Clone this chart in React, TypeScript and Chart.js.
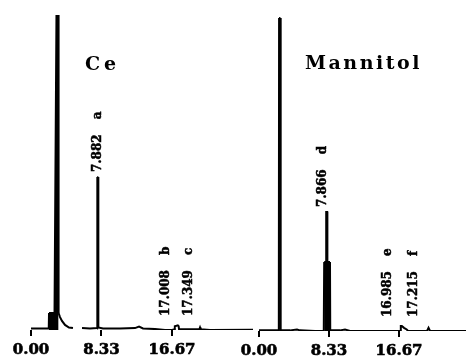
import React, { useEffect, useRef } from "react";
import { Chart, registerables } from "chart.js";

Chart.register(...registerables);

// ---- Ce chromatogram (retention time in min, detector signal in % of full scale) ----
const ceTimes = [0, 1.06, 2.1, 2.13, 2.78, 3.01, 3.25, 3.26, 3.43, 3.66, 4.02, 4.49, 4.96, 5.2, 6.03, 6.97, 7.83, 7.84, 7.95, 7.96, 8.51, 10.52, 12.29, 12.77, 13.24, 14.66, 15.84, 16.67, 16.98, 17.0, 17.35, 17.45, 17.5, 19.9, 19.98, 20.06, 21.16, 26.24];
const ceSignal = [0.5, 0.5, 0.5, 5.4, 5.4, 100, 100, 5.4, 4.1, 2.9, 1.6, 0.8, 0.6, null, 0.6, 0.5, 0.6, 48.6, 48.6, 0.8, 0.5, 0.5, 0.6, 1.1, 0.5, 0.3, 0, 0, 0.2, 1.2, 1.5, 1.2, 0.2, 0.2, 0.8, 0.2, 0, 0.1];
const cePeakTimes = [7.882, 17.008, 17.349];
const cePeakLetters = ["a", "b", "c"];

// ---- Mannitol chromatogram ----
const manTimes = [0, 1.5, 2.36, 2.39, 2.55, 2.58, 3.69, 4.52, 4.88, 6.67, 7.71, 7.76, 7.98, 8.0, 8.12, 8.14, 8.45, 8.48, 9.64, 10.24, 10.83, 16.19, 16.85, 16.88, 17.0, 17.26, 17.58, 17.74, 20.0, 20.18, 20.36, 24.64];
const manSignal = [0.2, 0.2, 0.3, 99.4, 99.4, 0.3, 0.2, 0.5, 0.2, 0, 0.1, 21.9, 21.9, 37.8, 37.8, 21.9, 21.9, 0.2, 0.2, 0.5, 0, 0, 0, 1.6, 1.6, 1.0, 0.5, 0, 0, 1.0, 0, 0];
const manPeakTimes = [7.866, 16.985, 17.215];
const manPeakLetters = ["d", "e", "f"];

// ---- axis ----
const tickValues = [0, 8.33, 16.67];
const tickLabels = ["0.00", "8.33", "16.67"];

const peakLabelPlugin = {
  id: "peakLabels",
  afterDatasetsDraw(chart: any, _args: any, opts: any) {
    const { ctx, scales, chartArea } = chart;
    const x = scales.x;
    const y = scales.y;
    ctx.save();
    ctx.fillStyle = "#000";
    ctx.strokeStyle = "#000";
    ctx.lineWidth = 0.5;
    ctx.font = 'bold 12px "DejaVu Serif"';
    ctx.textBaseline = "middle";
    ctx.textAlign = "left";
    opts.times.forEach((t: number, i: number) => {
      let apex = 0;
      opts.traceTimes.forEach((tt: number, j: number) => {
        const v = opts.traceSignal[j];
        if (v != null && Math.abs(tt - t) <= 0.35 && v > apex) apex = v;
      });
      const bottom = Math.min(y.getPixelForValue(apex) - 5, y.getPixelForValue(0) - 14);
      const px = x.getPixelForValue(t) + opts.dx[i];
      ctx.save();
      ctx.translate(px, bottom);
      ctx.rotate(-Math.PI / 2);
      const num = t.toFixed(3);
      ctx.fillText(num, 0, 0);
      ctx.strokeText(num, 0, 0);
      const w = ctx.measureText(num).width;
      ctx.fillText(opts.letters[i], w + 15, 0);
      ctx.strokeText(opts.letters[i], w + 15, 0);
      ctx.restore();
    });
    // title
    ctx.font = 'bold 19px "DejaVu Serif"';
    (ctx as any).letterSpacing = opts.titleSpacing;
    ctx.textBaseline = "alphabetic";
    ctx.fillText(opts.title, chartArea.left + opts.titleDx, opts.titleY);
    ctx.restore();
  },
};

function buildChart(canvas: HTMLCanvasElement, p: any) {
  return new Chart(canvas, {
    type: "line",
    data: {
      datasets: [
        {
          data: p.times.map((t: number, i: number) => ({ x: t, y: p.signal[i] })),
          borderColor: "#000",
          borderWidth: 2,
          pointRadius: 0,
          tension: 0,
          fill: "origin",
          backgroundColor: "rgba(0,0,0,0)",
          spanGaps: false,
          segment: {
            backgroundColor: (c: any) =>
              c.p0.parsed.y >= 5 && c.p1.parsed.y >= 5 ? "#000" : "rgba(0,0,0,0)",
          },
        } as any,
      ],
    },
    options: {
      responsive: false,
      animation: false,
      events: [],
      layout: { padding: p.padding },
      plugins: {
        legend: { display: false },
        tooltip: { enabled: false },
        peakLabels: {
          times: p.peakTimes,
          letters: p.peakLetters,
          dx: p.labelDx,
          traceTimes: p.times,
          traceSignal: p.signal,
          title: p.title,
          titleDx: p.titleDx,
          titleY: p.titleY,
          titleSpacing: p.titleSpacing,
        },
      } as any,
      scales: {
        x: {
          type: "linear",
          min: 0,
          max: p.xMax,
          afterBuildTicks: (s: any) => {
            s.ticks = tickValues.map((v) => ({ value: v }));
          },
          afterFit: (s: any) => {
            s.height = p.axisHeight;
          },
          grid: {
            display: true,
            drawOnChartArea: false,
            drawTicks: true,
            tickLength: 6,
            color: "#000",
            lineWidth: 2,
          },
          border: { display: false },
          ticks: {
            autoSkip: false,
            maxRotation: 0,
            padding: 5,
            color: "#000",
            textStrokeColor: "#000",
            textStrokeWidth: 0.6,
            font: { family: '"DejaVu Serif"', size: 15, weight: "bold" },
            callback: (_v: any, i: number) => tickLabels[i],
          },
        } as any,
        y: { display: false, min: 0, max: 100 },
      },
    },
    plugins: [peakLabelPlugin as any],
  });
}

export default function App() {
  const leftRef = useRef<HTMLCanvasElement>(null);
  const rightRef = useRef<HTMLCanvasElement>(null);

  useEffect(() => {
    const c1 = buildChart(leftRef.current!, {
      times: ceTimes,
      signal: ceSignal,
      xMax: 26.24,
      padding: { left: 31, right: 3, top: 15, bottom: 0 },
      axisHeight: 28,
      peakTimes: cePeakTimes,
      peakLetters: cePeakLetters,
      labelDx: [0, -9, 11],
      title: "Ce",
      titleDx: 54,
      titleY: 70,
      titleSpacing: "4px",
    });
    const c2 = buildChart(rightRef.current!, {
      times: manTimes,
      signal: manSignal,
      xMax: 24.64,
      padding: { left: 29, right: 0, top: 16, bottom: 0 },
      axisHeight: 27,
      peakTimes: manPeakTimes,
      peakLetters: manPeakLetters,
      labelDx: [-2, -14, 10],
      title: "Mannitol",
      titleDx: 46,
      titleY: 69,
      titleSpacing: "2.5px",
    });
    return () => {
      c1.destroy();
      c2.destroy();
    };
  }, []);

  return (
    <div style={{ position: "fixed", left: 0, top: 0, width: 466, height: 358, background: "#fff" }}>
      <canvas ref={leftRef} width={256} height={358} style={{ position: "absolute", left: 0, top: 0, width: 256, height: 358 }} />
      <canvas ref={rightRef} width={236} height={358} style={{ position: "absolute", left: 230, top: 0, width: 236, height: 358 }} />
    </div>
  );
}
